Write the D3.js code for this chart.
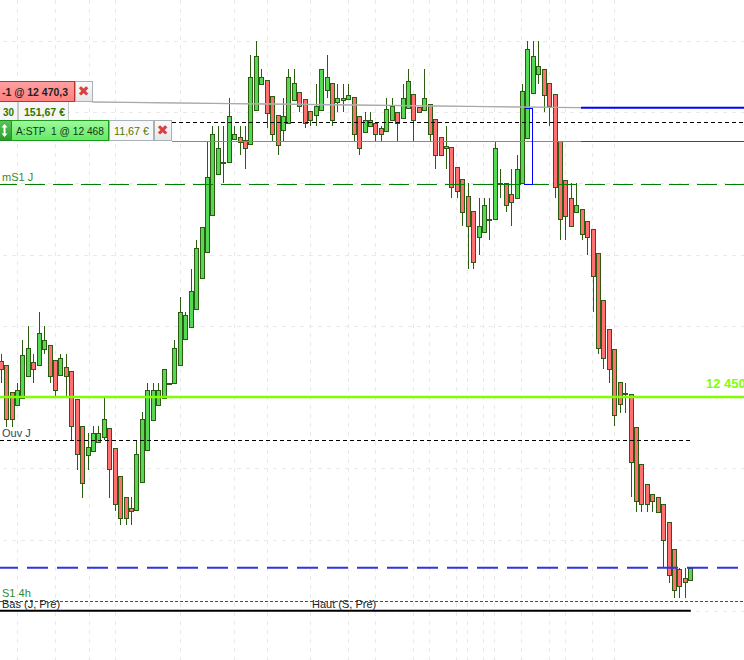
<!DOCTYPE html>
<html><head><meta charset="utf-8">
<style>html,body{margin:0;padding:0;background:#fff;overflow:hidden}svg{display:block}text{font-family:"Liberation Sans",Arial,sans-serif}</style>
<script src="https://cdn.jsdelivr.net/npm/d3@7/dist/d3.min.js"></script>
</head><body><svg id="c" width="744" height="660"></svg>
<script>
// Prices are stored as points relative to the 12 450 level.
const refPrice = 12450;
const opens = [2.53,2.25,.35,-.56,-.07,1.47,2.46,2.25,3.37,3.65,2.6,1.54,2.11,1.83,-.14,-2.04,-4.07,-3.79,-3.16,-2.81,-2.18,-3.58,-5.55,-7.02,-7.79,-7.93,-5.97,-3.72,-1.61,-.56,-.07,1,1,2.25,4.07,4.91,6.18,8.35,10.18,12.78,15.65,16.5,16.5,18.11,18.25,18.04,17.76,20.15,21.97,22.25,21.13,19.8,18.74,19.23,20.85,21.41,20.92,20.08,19.8,20.15,21.55,22,20.71,20.85,20.92,21.06,19.73,18.6,19.02,19.23,18.88,18.67,19.45,20,19.59,20.29,21.27,20.36,20.15,20.57,19.52,18.25,17.62,17.55,16.15,15.3,14.11,13.06,11.23,11.58,12.5,12.5,15,15,14.25,14,15,18.18,21.34,22.67,23,22.04,21.27,18,15.23,14,13,13.2,12.36,11.79,10.11,6.81,4.77,3.37,1.05,.28,.21,-2.11,-4.7,-6.11,-6.81,-7.02,-7.51,-8.78,-10.67,-12.07,-12.71,-12.85];
const highs = [3,2.25,.35,1,4,5,3,6,5,3.65,2.6,3,3,1.83,-.14,-2.04,-2.53,-2.04,-2.04,-.07,-2.18,-3.58,-5.55,-7.02,-7.02,-3.02,-1.05,1,1,1,1.97,1,4,7,6,9,11,11.93,17.9,19,19,19,21,19,19,19,24,25,23,22.25,21.13,19.8,21,23,23,21.41,20.92,20.08,22,23,24,22,22,22,22,21.06,19.73,20,20,19.23,19,21,21,20,22,23,21.27,20.36,23,20.57,19.52,18.25,19,17.55,16.15,15.3,15,13.06,14,14,14,18,16,15,16,17,22,25,25,25,23,22.04,21.27,18,15.23,15,15,13.2,12.36,11.79,10.11,6.81,4.77,3.37,1.05,1,.21,-2.11,-4.7,-6.11,-6.81,-7.02,-7.51,-8.78,-10.67,-12,-12,-12];
const lows = [1,-2.11,-2.11,-.56,-.07,1.47,1,2.25,3,1,.07,1.54,.07,-3,-5.12,-7.09,-5.12,-3.79,-3.16,-3.02,-7.09,-8,-8.99,-8.99,-8.99,-7.93,-5.97,-3.72,-1.61,-.56,-.07,1,1,2.25,4.07,4.91,6.18,8.35,10.18,12.78,15.65,15,16.5,18.11,17,16,17.76,20.15,21.97,18.88,18,17,18,19.23,20.85,20,18.88,19,19,20.15,21,19,20,20,20.92,18,17,18.6,19.02,18,18,18.67,19.45,18,19.59,20.29,18,20,20.15,18,16,17,16,14,14,12,9,9,10,11.58,11,12.5,14,13,12,14,15,18.18,21.34,22,20,19,14,11,11,12,13,11,10,6,3,2,1,-2.04,-1.12,-1.12,-7,-8.07,-8.07,-8.07,-8.07,-8.07,-12,-13.06,-14.11,-14.11,-14.11,-12.85];
const closes = [1.97,-1.54,-1.54,.49,2.95,3.44,1.97,4.49,4,1.47,.49,2.74,1.47,-2.04,-4,-6.04,-3.51,-2.53,-2.53,-1.54,-5.05,-7.51,-8.49,-8.49,-8,-4,-1.54,.49,.49,.49,1.97,1,3.44,5.97,5.76,7.44,10.46,11.93,15.44,18.46,17.48,16.5,19.73,18.46,17.9,17.48,22.46,23.94,22.46,19.94,18.46,17.69,19.73,22.46,22,20.43,19.23,19.45,20.43,23,22.46,19.45,21,21,21.2,18.46,17.48,19.45,19.45,18.46,18.46,20.22,20.43,19.23,21,22.18,19.45,20,21,18.46,17,17,17.48,14.74,14.46,13,12,9.48,12,13.48,12.5,17.48,15,13.48,13.69,16,21.48,24.43,23.94,23.24,21.2,20.43,14.74,12.5,12.71,12,13.48,11.44,11.23,8.49,3.44,2.74,1.97,-1.26,-.49,.28,-4.56,-7.3,-7.51,-7.51,-7.3,-8.07,-10.04,-12.5,-13.55,-13.27,-12.99,-12];
const priceGrid = [12475,12470,12465,12460,12455,12450,12445,12440,12435];
const timeGrid = [17,55,89,115,180,234,267,310,348,375,413,429,456,467,483,494,521,549,565,592,614];
const lvlStop = 12470.3, lvlStopHead = 12470.75, lvlTarget = 12468, lvlDashTop = 12469.3;
const lvlMS1 = 12464.95, lvlRound = 12450, lvlOuv = 12447, lvlBlue = 12438.02, lvlS1 = 12435.7, lvlBas = 12435;
const levelLabels = ["mS1 J","Ouv J","S1 4h","Bas (J, Pré)","Haut (S, Pré)","12 450"];

const svg = d3.select("#c");
const W = 744;
const x = d3.scaleLinear().domain([0, opens.length-1]).range([1.2, 690.81]);
const y = d3.scaleLinear().domain([refPrice-15, refPrice+25]).range([397+15*14.25, 397-25*14.25]);
const py = v => Math.round(y(v)) + .5;
const cx = i => Math.floor(x(i)) + .5;

// grid
const grid = svg.append("g").attr("stroke","#e9e9e9").attr("stroke-width",1).attr("stroke-dasharray","4 5");
grid.selectAll(".h").data(priceGrid).join("line").attr("x1",3).attr("x2",W).attr("y1",py).attr("y2",py);
grid.selectAll(".v").data(timeGrid).join("line").attr("x1",d=>d+.5).attr("x2",d=>d+.5).attr("y1",0).attr("y2",660);

// candles
const candles = opens.map((o,i)=>({i,o:refPrice+o,h:refPrice+highs[i],l:refPrice+lows[i],c:refPrice+closes[i]}));
const g = svg.append("g").attr("shape-rendering","crispEdges");
const dark = "#2b5c12";
g.selectAll("line").data(candles).join("line")
  .attr("x1",d=>cx(d.i)).attr("x2",d=>cx(d.i)).attr("y1",d=>y(d.h)).attr("y2",d=>y(d.l))
  .attr("stroke",dark).attr("stroke-width",1);
g.selectAll("rect").data(candles).join("rect")
  .attr("x",d=>cx(d.i)-2).attr("width",4)
  .attr("y",d=>Math.round(y(Math.max(d.o,d.c)))+.5)
  .attr("height",d=>Math.max(1,Math.round(y(Math.min(d.o,d.c)))-Math.round(y(Math.max(d.o,d.c)))))
  .attr("fill",d=>d.c>=d.o?"#55d955":"#ff7070")
  .attr("stroke",dark).attr("stroke-width",1);

// levels
function hline(v,x1,x2,col,w,dash,off){
  const l=svg.append("line").attr("x1",x1).attr("x2",x2).attr("y1",py(v)).attr("y2",py(v))
    .attr("stroke",col).attr("stroke-width",w).attr("shape-rendering","crispEdges");
  if(dash) l.attr("stroke-dasharray",dash).attr("stroke-dashoffset",off||0);
}
const xEnd = x(opens.length-1);
hline(lvlDashTop,172,W,"#000",1,"4 3");
hline(lvlMS1,0,W,"#008000",1,"20 8",3);
hline(lvlOuv,0,xEnd,"#000",1,"4 3");
svg.append("line").attr("x1",0).attr("x2",W).attr("y1",y(lvlBlue)).attr("y2",y(lvlBlue)).attr("stroke","#3333dd").attr("stroke-width",2).attr("stroke-dasharray","21 9").attr("stroke-dashoffset",3);
hline(lvlS1,0,W,"#008000",1,"3 2");
svg.append("line").attr("x1",0).attr("x2",xEnd).attr("y1",y(lvlBas)).attr("y2",y(lvlBas)).attr("stroke","#000").attr("stroke-width",2);
svg.append("line").attr("x1",0).attr("x2",W).attr("y1",y(lvlRound)).attr("y2",y(lvlRound)).attr("stroke","#80ff00").attr("stroke-width",2.4);

// order levels
svg.append("line").attr("x1",92).attr("x2",581).attr("y1",y(lvlStopHead)+.5).attr("y2",y(lvlStop)).attr("stroke","#b8b8b8").attr("stroke-width",1.3);
svg.append("line").attr("x1",92).attr("x2",581).attr("y1",y(lvlStopHead)+.8).attr("y2",y(lvlStop)).attr("stroke","#a0a0a0").attr("stroke-width",.7);
svg.append("line").attr("x1",581).attr("x2",W).attr("y1",y(lvlStop)).attr("y2",y(lvlStop)).attr("stroke","#0000ff").attr("stroke-width",2);
hline(lvlTarget,172,581,"#8a8a8a",1);
hline(lvlTarget,581,W,"#008000",1);
svg.append("path").attr("fill","none").attr("stroke","#0000ff").attr("stroke-width",1).attr("shape-rendering","crispEdges")
  .attr("d",d3.line()([[x(96.5),py(lvlStop)],[x(97.8),py(lvlStop)],[x(97.8),py(lvlMS1)],[x(96.3),py(lvlMS1)]]));

// text labels
function label(t,xp,yp,col,size,weight){
  return svg.append("text").attr("x",xp).attr("y",yp).attr("fill",col).attr("font-size",size||11).attr("font-weight",weight||"normal").text(t);
}
label(levelLabels[0],2,181,"#3d8a1f",11);
label(levelLabels[1],2,437,"#33465a",11);
label(levelLabels[2],2,597,"#2f8a2f",11);
label(levelLabels[3],2,608,"#222",11);
label(levelLabels[4],312,608,"#222",11);
label(levelLabels[5],706,388,"#80ff00",13,"bold");

// order tabs
const defs = svg.append("defs");
function grad(id,a,b){const g=defs.append("linearGradient").attr("id",id).attr("x1",0).attr("x2",0).attr("y1",0).attr("y2",1);
  g.append("stop").attr("offset",0).attr("stop-color",a);g.append("stop").attr("offset",1).attr("stop-color",b);}
grad("r","#ffa0a0","#ff8080");grad("gg","#a0f8a0","#62ea62");grad("dg","#58c858","#2a9a2a");grad("wt","#fafafa","#e6e6e6");
const tabs = svg.append("g").attr("shape-rendering","crispEdges");
function box(a,b,t,h,fill,stroke){tabs.append("rect").attr("x",a+.5).attr("y",t+.5).attr("width",b-a-1).attr("height",h).attr("fill",fill).attr("stroke",stroke);}
box(-2,18,101,19,"#f6f6f6","#c8c8c8");
box(18,69,101,19,"#f6f6f6","#c8c8c8");
box(-2,75,81,20,"url(#r)","#c03030");
box(75,93,81,20,"url(#wt)","#a8b0b8");
box(-2,12,120,20,"url(#dg)","#1c8a1c");
box(11,109,120,20,"url(#gg)","#1c9a1c");
box(109,154,120,20,"#f8f8f8","#a8b0b8");
box(154,172,120,20,"url(#wt)","#a8b0b8");
function tt(t,xp,yp,col,len,weight){return svg.append("text").attr("x",xp).attr("y",yp).attr("fill",col).attr("font-size",11.5).attr("font-weight",weight||"normal").attr("textLength",len).attr("lengthAdjust","spacingAndGlyphs").style("white-space","pre").text(t);}
tt("-1 @ 12 470,3",2,96,"#222",66,"bold");
tt("30",3,116,"#2f7a00",11,"bold");
tt("151,67 €",24,116,"#2f7a00",41,"bold");
tt("A:STP  1 @ 12 468",16,135,"#123a12",88);
tt("11,67 €",114,135,"#4d7a00",35);
function cross(cxp,cyp){svg.append("text").attr("x",cxp).attr("y",cyp).attr("text-anchor","middle").attr("fill","#d94040").attr("font-size",14).attr("font-weight","bold").style("font-family","DejaVu Sans").text("✖");}
cross(83.5,96);cross(162.5,135);
svg.append("path").attr("d","M4.5 124l3 3.5h-2v6h2l-3 3.5l-3-3.5h2v-6h-2z").attr("fill","#fff");
</script></body></html>
